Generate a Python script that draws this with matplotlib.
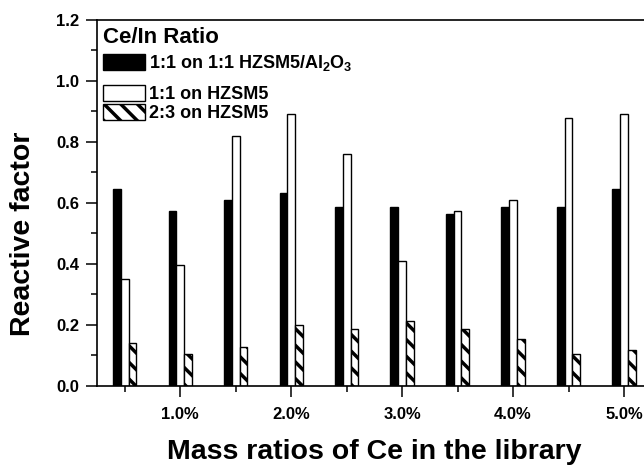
import numpy as np
import matplotlib
matplotlib.use('Agg')
import matplotlib.pyplot as plt
from matplotlib.ticker import MultipleLocator, FormatStrFormatter

# Ce mass ratio (%) for each group of bars
ce_ratio = [0.5, 1.0, 1.5, 2.0, 2.5, 3.0, 3.5, 4.0, 4.5, 5.0]

# reactive factor for the three Ce/In catalysts
hzsm5_al2o3 = [0.645, 0.574, 0.609, 0.632, 0.585, 0.585, 0.562, 0.585, 0.585, 0.645]
hzsm5_11 = [0.350, 0.397, 0.819, 0.891, 0.761, 0.409, 0.573, 0.609, 0.877, 0.890]
hzsm5_23 = [0.139, 0.105, 0.128, 0.198, 0.187, 0.211, 0.187, 0.152, 0.105, 0.117]

series_labels = ['1:1 on 1:1 HZSM5/Al$_2$O$_3$', '1:1 on HZSM5', '2:3 on HZSM5']
major_ticks = [1.0, 2.0, 3.0, 4.0, 5.0]
major_tick_labels = ['1.0%', '2.0%', '3.0%', '4.0%', '5.0%']
minor_ticks = [0.5, 1.5, 2.5, 3.5, 4.5]

plt.rcParams['font.family'] = ['Liberation Sans', 'DejaVu Sans']
plt.rcParams['font.weight'] = 'bold'
plt.rcParams['mathtext.fontset'] = 'custom'
plt.rcParams['mathtext.rm'] = 'Liberation Sans:bold'
plt.rcParams['mathtext.it'] = 'Liberation Sans:bold'
plt.rcParams['mathtext.bf'] = 'Liberation Sans:bold'
plt.rcParams['hatch.linewidth'] = 2.5

fig = plt.figure(figsize=(6.44, 4.68), dpi=100)
ax = fig.add_axes([0.1506, 0.1759, 0.8494, 0.7814])

x = np.array(ce_ratio)
w = 0.07
b1 = ax.bar(x - w, hzsm5_al2o3, width=w, color='black', edgecolor='black', linewidth=1.0)
b2 = ax.bar(x, hzsm5_11, width=w, color='white', edgecolor='black', linewidth=1.0)
b3 = ax.bar(x + w, hzsm5_23, width=w, color='white', edgecolor='black', linewidth=1.0, hatch='\\\\')

ax.set_xlim(0.25, 5.18)
ax.set_ylim(0, 1.2)

ax.set_xticks(major_ticks)
ax.set_xticklabels(major_tick_labels)
ax.set_xticks(minor_ticks, minor=True)
ax.yaxis.set_major_locator(MultipleLocator(0.2))
ax.yaxis.set_minor_locator(MultipleLocator(0.1))
ax.yaxis.set_major_formatter(FormatStrFormatter('%.1f'))

ax.tick_params(which='major', direction='out', length=8, width=1.1, labelsize=12, pad=5)
ax.tick_params(which='minor', direction='out', length=4, width=1.1)
ax.tick_params(axis='x', which='major', pad=7)

for s in ['left', 'bottom', 'top']:
    ax.spines[s].set_linewidth(1.2)
ax.spines['right'].set_visible(False)

ax.set_ylabel('Reactive factor', fontsize=20.5, fontweight='bold', va='center')
ax.yaxis.set_label_coords(-0.135, 0.415)
ax.set_xlabel('Mass ratios of Ce in the library', fontsize=20.5, fontweight='bold', va='center')
ax.xaxis.set_label_coords(0.506, -0.181)

# legend in two pieces so the rows sit like the original
leg_opts = dict(loc='upper left', frameon=False, prop={'weight': 'bold', 'size': 13},
                handlelength=2.3, handleheight=0.95, handletextpad=0.25,
                borderpad=0, borderaxespad=0)
leg1 = ax.legend([b1], [series_labels[0]], bbox_to_anchor=(0.011, 0.981),
                 title='Ce/In Ratio', title_fontproperties={'weight': 'bold', 'size': 16},
                 alignment='left', labelspacing=0.28, **leg_opts)
ax.add_artist(leg1)
ax.legend([b2, b3], series_labels[1:], bbox_to_anchor=(0.011, 0.822),
          labelspacing=0.05, **leg_opts)

plt.savefig('out.png', dpi=100)
